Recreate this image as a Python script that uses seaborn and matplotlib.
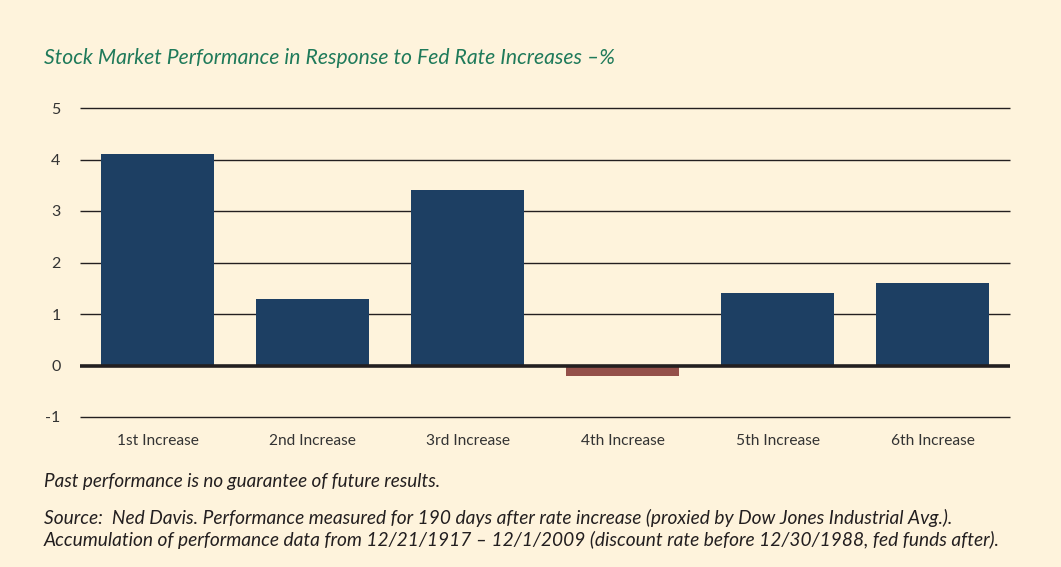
import matplotlib
matplotlib.use("Agg")
import matplotlib.pyplot as plt
import seaborn as sns
import pandas as pd

categories = ["1st Increase", "2nd Increase", "3rd Increase", "4th Increase", "5th Increase", "6th Increase"]
values = [4.1, 1.3, 3.4, -0.2, 1.4, 1.6]
yticks = [-1, 0, 1, 2, 3, 4, 5]

title = "Stock Market Performance in Response to Fed Rate Increases \u2013%"
note1 = "Past performance is no guarantee of future results."
note2 = ("Source:  Ned Davis. Performance measured for 190 days after rate increase (proxied by Dow Jones Industrial Avg.).\n"
         "Accumulation of performance data from 12/21/1917 \u2013 12/1/2009 (discount rate before 12/30/1988, fed funds after).")

bg = "#FEF3DC"
pos_color = "#1D3F63"
neg_color = "#94504A"
dark = "#231F20"

sns.set_theme(style="white")
plt.rcParams["font.family"] = ["Lato", "DejaVu Sans"]

df = pd.DataFrame({"cat": categories, "val": values})
df["sign"] = ["pos" if v >= 0 else "neg" for v in values]

fig = plt.figure(figsize=(10.61, 5.67), dpi=100, facecolor=bg)
ax = fig.add_axes([80 / 1061, 1 - 417 / 567, 930 / 1061, 309 / 567])
ax.set_facecolor(bg)

for t in yticks:
    ax.axhline(t, color=dark, lw=2.6 if t == 0 else 1.0, zorder=0 if t != 0 else 3,
               clip_on=False, solid_capstyle="butt")

sns.barplot(data=df, x="cat", y="val", hue="sign", palette={"pos": pos_color, "neg": neg_color},
            width=0.725, legend=False, ax=ax, zorder=2, saturation=1, linewidth=0, edgecolor="none")

ax.set_xlim(-0.5, 5.5)
ax.set_ylim(-1, 5)
ax.set_yticks(yticks)
ax.set_yticklabels([str(t) for t in yticks], fontsize=11.5, color="#333333")
ax.set_xticks(range(len(categories)))
ax.set_xticklabels(categories, fontsize=11.2, color="#333333")
ax.tick_params(axis="both", length=0)
ax.tick_params(axis="y", pad=14)
ax.tick_params(axis="x", pad=12)
ax.set_xlabel("")
ax.set_ylabel("")
for s in ax.spines.values():
    s.set_visible(False)

fig.text(44 / 1061, 1 - 58 / 567, title, fontsize=15.2, style="italic", color="#1F7A5A", va="center")
fig.text(44 / 1061, 1 - 481 / 567, note1, fontsize=13.6, style="italic", color="#231F20", va="center")
fig.text(44 / 1061, 1 - 529 / 567, note2, fontsize=13.8, style="italic", color="#231F20", va="center",
         linespacing=1.25)

fig.savefig("out.png", dpi=100, facecolor=bg)
